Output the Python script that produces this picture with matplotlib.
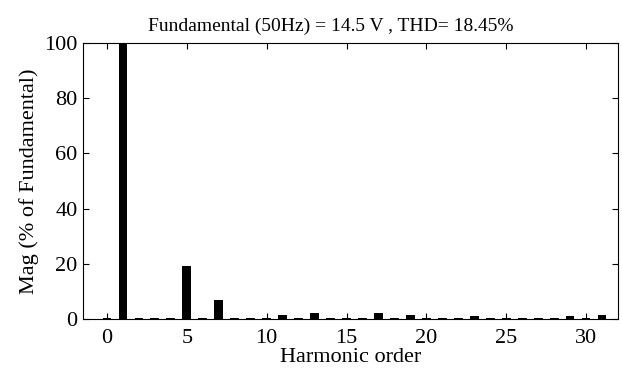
import numpy as np
import matplotlib.pyplot as plt

plt.rcParams['font.family'] = ['Liberation Serif', 'DejaVu Serif']

# harmonic spectrum, % of fundamental
order = np.arange(0, 32)
mag = [0.4, 100, 0.5, 0.5, 0.5, 19.3, 0.5, 7.0, 0.5, 0.5, 0.5, 1.6, 0.5, 2.2, 0.5, 0.5,
       0.5, 2.1, 0.5, 1.3, 0.5, 0.5, 0.5, 1.2, 0.5, 0.5, 0.5, 0.5, 0.5, 1.2, 0.5, 1.6]

title = 'Fundamental (50Hz) = 14.5 V , THD= 18.45%'

fig = plt.figure(figsize=(6.22, 3.69), dpi=100)
ax = fig.add_axes([83/622, 1 - 319/369, 535/622, 276/369])

ax.bar(order, mag, width=0.55, color='black')

ax.set_xlim(-1.5, 32)
ax.set_ylim(0, 100)
ax.set_xticks(np.arange(0, 31, 5))
ax.set_yticks(np.arange(0, 101, 20))
ax.tick_params(direction='in', top=True, right=True, labelsize=16, length=4)
ax.tick_params(axis='x', pad=7)
ax.tick_params(axis='y', pad=4)
for s in ax.spines.values():
    s.set_linewidth(0.8)

ax.set_title(title, fontsize=14, pad=9, x=0.464)
ax.set_ylabel('Mag (% of Fundamental)', fontsize=16, labelpad=4)
ax.set_xlabel('Harmonic order', fontsize=16, labelpad=0.5)

fig.savefig('out.png', dpi=100)
